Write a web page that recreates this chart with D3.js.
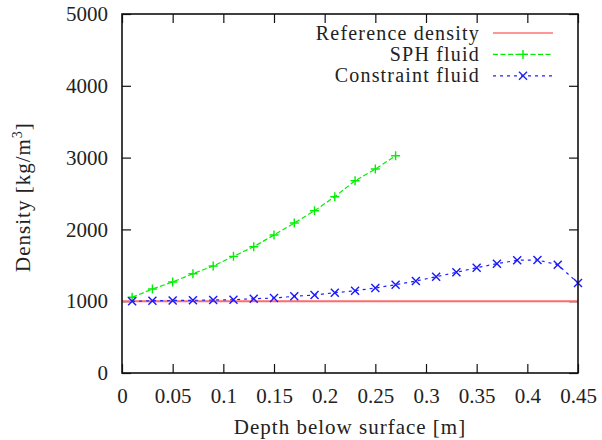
<!DOCTYPE html>
<html>
<head>
<meta charset="utf-8">
<script src="https://cdn.jsdelivr.net/npm/d3@7"></script>
<style>
  body { margin: 0; background: #fff; }
  svg { display: block; }
  svg text { font-family: "Liberation Serif", serif !important; fill: #222; }
</style>
</head>
<body>
<svg id="chart" width="602" height="440"></svg>
<script>
// depth [m] and densities [kg/m^3]
var refDepth = [0, 0.45];
var refDensity = [1000, 1000];

var sphDepth = [0.01, 0.03, 0.05, 0.07, 0.09, 0.11, 0.13, 0.15, 0.17, 0.19, 0.21, 0.23, 0.25, 0.27];
var sphDensity = [1054, 1170, 1267, 1383, 1490, 1625, 1759, 1922, 2089, 2260, 2455, 2678, 2841, 3026];

var conDepth = [0.01, 0.03, 0.05, 0.07, 0.09, 0.11, 0.13, 0.15, 0.17, 0.19, 0.21, 0.23,
                0.25, 0.27, 0.29, 0.31, 0.33, 0.35, 0.37, 0.39, 0.41, 0.43, 0.45];
var conDensity = [998, 1007, 1010, 1012, 1017, 1021, 1035, 1044, 1068, 1086, 1118, 1146,
                  1184, 1230, 1281, 1341, 1402, 1467, 1522, 1570, 1574, 1508, 1253];

var xTicks = [0, 0.05, 0.1, 0.15, 0.2, 0.25, 0.3, 0.35, 0.4, 0.45];
var yTicks = [0, 1000, 2000, 3000, 4000, 5000];

var seriesNames = ["Reference density", "SPH fluid", "Constraint fluid"];

const margin = {top: 14, right: 24, bottom: 67, left: 122};
const W = 602, H = 440;
const width = W - margin.left - margin.right;
const height = H - margin.top - margin.bottom;

const svg = d3.select("#chart");
const g = svg.append("g").attr("transform", "translate(" + margin.left + "," + margin.top + ")");

const x = d3.scaleLinear().domain([0, 0.45]).range([0, width]);
const y = d3.scaleLinear().domain([0, 5000]).range([height, 0]);

function styleAxis(sel) {
    sel.attr("font-family", null).attr("font-size", null);
    sel.select(".domain").remove();
    sel.selectAll("line").attr("stroke", "#111").attr("stroke-width", 1.2);
    sel.selectAll("text")
        .style("font-family", "'Liberation Serif', serif")
        .style("font-size", "21px")
        .attr("fill", "#222");
}

// axes, ticks pointing inward on all four sides
g.append("g")
    .attr("transform", "translate(0," + height + ")")
    .call(d3.axisBottom(x).tickValues(xTicks).tickSize(-9).tickPadding(15)
        .tickFormat(d => String(+d.toFixed(2))))
    .call(styleAxis);

g.append("g")
    .call(d3.axisTop(x).tickValues(xTicks).tickSize(-9).tickFormat(""))
    .call(styleAxis);

g.append("g")
    .call(d3.axisLeft(y).tickValues(yTicks).tickSize(-9).tickPadding(14)
        .tickFormat(d => String(d)))
    .call(styleAxis);

g.append("g")
    .attr("transform", "translate(" + width + ",0)")
    .call(d3.axisRight(y).tickValues(yTicks).tickSize(-9).tickFormat(""))
    .call(styleAxis);

// lines
const line = d3.line().x(d => x(d[0])).y(d => y(d[1]));

g.append("path")
    .datum(d3.zip(refDepth, refDensity))
    .attr("d", line)
    .attr("fill", "none")
    .attr("stroke", "#ff6a6a")
    .attr("stroke-width", 2);

g.append("path")
    .datum(d3.zip(sphDepth, sphDensity))
    .attr("d", line)
    .attr("fill", "none")
    .attr("stroke", "#00ee00")
    .attr("stroke-width", 1.2)
    .attr("stroke-dasharray", "5,2.5");

g.append("path")
    .datum(d3.zip(conDepth, conDensity))
    .attr("d", line)
    .attr("fill", "none")
    .attr("stroke", "#2020ff")
    .attr("stroke-width", 1.2)
    .attr("stroke-dasharray", "3,4");

// markers
function plus(sel, s) {
    return sel.append("path")
        .attr("d", "M" + (-s) + ",0H" + s + "M0," + (-s) + "V" + s)
        .attr("fill", "none");
}
function cross(sel, s) {
    return sel.append("path")
        .attr("d", "M" + (-s) + "," + (-s) + "L" + s + "," + s + "M" + (-s) + "," + s + "L" + s + "," + (-s))
        .attr("fill", "none");
}

g.selectAll(".sph")
    .data(d3.zip(sphDepth, sphDensity))
    .enter().append("g")
    .attr("class", "sph")
    .attr("transform", d => "translate(" + x(d[0]) + "," + y(d[1]) + ")")
    .each(function() { plus(d3.select(this), 4.5).attr("stroke", "#00ee00").attr("stroke-width", 1.4); });

g.selectAll(".con")
    .data(d3.zip(conDepth, conDensity))
    .enter().append("g")
    .attr("class", "con")
    .attr("transform", d => "translate(" + x(d[0]) + "," + y(d[1]) + ")")
    .each(function() { cross(d3.select(this), 4).attr("stroke", "#1818ff").attr("stroke-width", 1.4); });

// frame
g.append("rect")
    .attr("width", width)
    .attr("height", height)
    .attr("fill", "none")
    .attr("stroke", "#111")
    .attr("stroke-width", 1.6);

// legend
const legend = g.append("g").attr("transform", "translate(" + (480 - margin.left) + "," + (33 - margin.top) + ")");
const legendStyles = [
    {color: "#ff3030", dash: null, mark: null},
    {color: "#00ee00", dash: "5,2.5", mark: plus},
    {color: "#2020ff", dash: "3,4", mark: cross}
];
seriesNames.forEach(function(name, i) {
    const row = legend.append("g").attr("transform", "translate(0," + (i * 21.4) + ")");
    row.append("text")
        .attr("x", 0)
        .attr("y", 6.5)
        .attr("text-anchor", "end")
        .style("font-size", "20px")
        .attr("letter-spacing", 1.2)
        .text(name);
    row.append("line")
        .attr("x1", 13).attr("x2", 73)
        .attr("stroke", legendStyles[i].color)
        .attr("stroke-width", 1.2)
        .attr("stroke-dasharray", legendStyles[i].dash);
    if (legendStyles[i].mark) {
        const m = row.append("g").attr("transform", "translate(43,0)");
        legendStyles[i].mark(m, i === 1 ? 4.5 : 4).attr("stroke", legendStyles[i].color).attr("stroke-width", 1.4);
    }
});

// axis titles
svg.append("text")
    .attr("x", margin.left + width / 2)
    .attr("y", 434)
    .attr("text-anchor", "middle")
    .style("font-size", "21px")
    .attr("letter-spacing", 1)
    .text("Depth below surface [m]");

const yl = svg.append("text")
    .attr("transform", "translate(30,197) rotate(-90)")
    .attr("text-anchor", "middle")
    .style("font-size", "21px")
    .attr("letter-spacing", 1);
yl.append("tspan").text("Density [kg/m");
yl.append("tspan").style("font-size", "14px").attr("dy", -8).text("3");
yl.append("tspan").attr("dy", 8).text("]");
</script>
</body>
</html>
